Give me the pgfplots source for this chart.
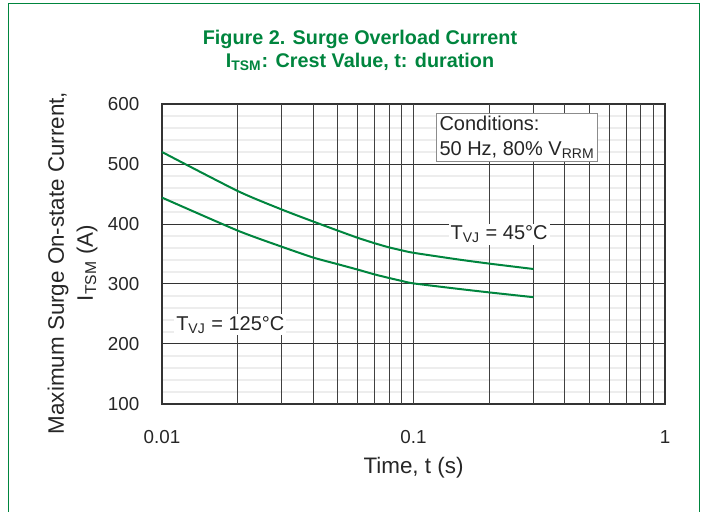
\documentclass[border=0pt]{standalone}
\usepackage{fontspec}
\setmainfont{Liberation Sans}
\usepackage{pgfplots}
\pgfplotsset{compat=1.18}
\definecolor{fig}{RGB}{0,133,62}
\begin{document}
\fontsize{9.5}{11}\selectfont
\begin{tikzpicture}[x=1pt,y=1pt]
\begin{axis}[at={(0,0)},anchor=south west, scale only axis,
  width=251.5pt, height=150pt,
  xmode=log, xmin=0.01, xmax=1, ymin=100, ymax=600,
  xtick={0.01,0.1,1}, xticklabels={0.01,0.1,1},
  extra x ticks={0.02,0.03,0.04,0.05,0.06,0.07,0.08,0.09,0.1,0.2,0.3,0.4,0.5,0.6,0.7,0.8,0.9},
  extra x tick labels={},
  extra x tick style={grid=major, major grid style={black!75, line width=0.5pt}},
  ytick={100,200,...,600},
  minor ytick={120,140,160,180,220,240,260,280,320,340,360,380,420,440,460,480,520,540,560,580},
  xmajorgrids=false, ymajorgrids=true, yminorgrids=true,
  major grid style={black!80, line width=0.5pt},
  minor y grid style={black!7, line width=0.7pt},
  axis line style={black!80, line width=0.8pt},
  tick style={draw=none},
  /pgf/number format/assume math mode=true,
  tick label style={font=\fontsize{9.4}{11}\selectfont, text=black!85},
  xticklabel style={yshift=-10pt},
  yticklabel style={xshift=-8pt},
  xlabel={Time, t (s)},
  xlabel style={at={(axis description cs:0.5,0)}, anchor=center, yshift=-32pt, font=\fontsize{11.2}{13}\selectfont, text=black!85},
  clip=false,
]
\addplot[fig, line width=1pt, smooth, tension=0.4] coordinates {
(0.01,520)(0.02,455)(0.03,424)(0.04,404)(0.05,389)(0.06,377)(0.07,368)(0.08,361)(0.09,356)(0.1,352)(0.15,341)(0.2,334)(0.3,325)};
\addplot[fig, line width=1pt, smooth, tension=0.4] coordinates {
(0.01,444)(0.02,389)(0.03,362)(0.04,344)(0.05,333)(0.06,324)(0.07,316)(0.08,310)(0.09,305)(0.1,301)(0.15,292)(0.2,286)(0.3,278)};
\node[draw=black!45, fill=white, anchor=north west, align=left, inner sep=1.5pt, text=black!85, font=\fontsize{10}{12.5}\selectfont] at (axis cs:0.123,585) {Conditions:\\50 Hz, 80\% V\textsubscript{RRM}};
\node[fill=white, inner sep=1pt, text=black!85, font=\fontsize{10}{12}\selectfont] at (axis cs:0.219,383) {T\textsubscript{VJ} = 45°C};
\node[fill=white, inner sep=1pt, text=black!85, font=\fontsize{10}{12}\selectfont] at (axis cs:0.0187,232) {T\textsubscript{VJ} = 125°C};
\end{axis}
\node[rotate=90, align=center, text=black!85, font=\fontsize{11.2}{14.5}\selectfont] at (-44.75,70.5) {Maximum Surge On-state Current,\\I\textsubscript{TSM} (A)};
\node[align=center, text=fig, font=\bfseries\fontsize{9.9}{11.5}\selectfont] at (99,177) {Figure 2. Surge Overload Current\\I\textsubscript{TSM}: Crest Value, t: duration};
\draw[fig, line width=0.75pt] (-76.75,-60) -- (-76.75,200.25) -- (268.75,200.25) -- (268.75,-60);
\pgfresetboundingbox
\useasboundingbox (-81,-54) rectangle (271.5,202);
\end{tikzpicture}
\end{document}
